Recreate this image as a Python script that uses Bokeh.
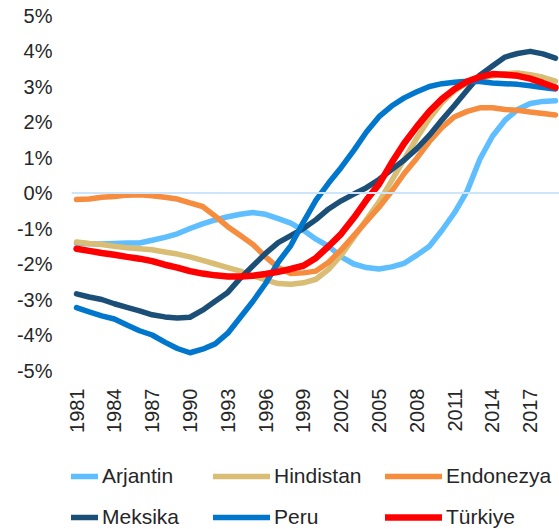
from bokeh.plotting import figure
from bokeh.layouts import column
from bokeh.models import (FixedTicker, PrintfTickFormatter, Span, Legend, LegendItem, Range1d)
from bokeh.embed import file_html
from bokeh.resources import INLINE
import math

years = list(range(1981, 2020))
tick_years = list(range(1981, 2018, 3))
y_ticks = [-5, -4, -3, -2, -1, 0, 1, 2, 3, 4, 5]

series_names = ["Arjantin", "Hindistan", "Endonezya", "Meksika", "Peru", "Türkiye"]

arjantin = [-1.41, -1.43, -1.44, -1.42, -1.41, -1.41, -1.33, -1.25, -1.15, -1.00,
            -0.87, -0.76, -0.67, -0.60, -0.55, -0.60, -0.72, -0.85, -1.05, -1.30,
            -1.50, -1.80, -2.00, -2.10, -2.14, -2.08, -1.98, -1.75, -1.50, -1.05,
            -0.55, 0.06, 0.95, 1.60, 2.05, 2.35, 2.52, 2.58, 2.60]
hindistan = [-1.38, -1.42, -1.45, -1.50, -1.54, -1.57, -1.60, -1.66, -1.72, -1.80,
             -1.90, -2.00, -2.10, -2.20, -2.33, -2.45, -2.55, -2.57, -2.53, -2.43,
             -2.15, -1.75, -1.25, -0.75, -0.25, 0.35, 0.95, 1.55, 2.10, 2.55,
             2.88, 3.10, 3.22, 3.30, 3.36, 3.38, 3.33, 3.26, 3.15]
endonezya = [-0.18, -0.17, -0.12, -0.10, -0.06, -0.05, -0.08, -0.12, -0.17, -0.28,
             -0.38, -0.65, -0.95, -1.20, -1.45, -1.80, -2.10, -2.27, -2.25, -2.20,
             -1.95, -1.60, -1.20, -0.80, -0.40, 0.05, 0.55, 0.98, 1.45, 1.85,
             2.15, 2.30, 2.40, 2.40, 2.35, 2.33, 2.28, 2.24, 2.20]
meksika = [-2.84, -2.93, -3.00, -3.12, -3.22, -3.32, -3.43, -3.49, -3.52, -3.50,
           -3.30, -3.05, -2.80, -2.40, -2.05, -1.70, -1.40, -1.20, -1.00, -0.75,
           -0.45, -0.22, -0.03, 0.15, 0.38, 0.66, 0.93, 1.25, 1.63, 2.06,
           2.47, 2.90, 3.32, 3.58, 3.83, 3.93, 3.99, 3.92, 3.80]
peru = [-3.23, -3.35, -3.46, -3.55, -3.72, -3.88, -4.00, -4.20, -4.38, -4.50,
        -4.40, -4.25, -3.95, -3.50, -3.05, -2.55, -1.95, -1.48, -0.82, -0.20,
        0.28, 0.72, 1.20, 1.72, 2.15, 2.45, 2.68, 2.85, 3.00, 3.08,
        3.12, 3.15, 3.14, 3.10, 3.08, 3.06, 3.02, 2.97, 2.93]
turkiye = [-1.57, -1.63, -1.69, -1.74, -1.80, -1.85, -1.92, -2.02, -2.10, -2.20,
           -2.27, -2.32, -2.35, -2.35, -2.33, -2.28, -2.22, -2.14, -2.05, -1.83,
           -1.50, -1.15, -0.70, -0.20, 0.25, 0.85, 1.40, 1.87, 2.30, 2.65,
           2.93, 3.14, 3.27, 3.35, 3.33, 3.30, 3.22, 3.10, 2.97]

values = [arjantin, hindistan, endonezya, meksika, peru, turkiye]
colors = ["#5EBEFF", "#D9BD74", "#F68D3E", "#1B4F78", "#0077CC", "#FF0000"]
widths = [5.5, 5.5, 5.5, 5.5, 5.5, 6.5]

FONT = "Liberation Sans"
TXT = "#262626"

p = figure(width=559, height=450, output_backend="svg", toolbar_location=None,
           x_range=Range1d(1980.6, 2019.32), y_range=Range1d(-5, 5),
           min_border_left=71, min_border_right=0, min_border_top=15,
           min_border_bottom=80)
p.outline_line_color = None
p.grid.visible = False
p.background_fill_color = "white"
p.border_fill_color = "white"

p.add_layout(Span(location=0, dimension="width", line_color="#CCE5FA", line_width=2))

for name, vals, c, w in zip(series_names, values, colors, widths):
    p.line(years, vals, line_color=c, line_width=w, line_join="round", line_cap="round")

p.yaxis.ticker = FixedTicker(ticks=y_ticks)
p.yaxis.formatter = PrintfTickFormatter(format="%d%%")
p.xaxis.ticker = FixedTicker(ticks=tick_years)
p.xaxis.formatter = PrintfTickFormatter(format="%d")
p.xaxis.major_label_orientation = math.pi / 2
for ax in (p.xaxis[0], p.yaxis[0]):
    ax.axis_line_color = None
    ax.major_tick_line_color = None
    ax.minor_tick_line_color = None
    ax.major_tick_in = 0
    ax.major_tick_out = 0
    ax.minor_tick_out = 0
    ax.major_label_text_font = FONT
    ax.major_label_text_font_size = "20px"
    ax.major_label_text_color = TXT
p.yaxis.major_label_standoff = 19
p.xaxis.major_label_standoff = 18

# legend panel: a second figure whose (out-of-view) lines carry the same styles
q = figure(width=559, height=79, output_backend="svg", toolbar_location=None,
           x_range=Range1d(0, 1), y_range=Range1d(0, 1),
           x_axis_location=None, y_axis_location=None,
           min_border_left=0, min_border_right=0, min_border_top=0, min_border_bottom=0)
q.outline_line_color = None
q.grid.visible = False
q.border_fill_color = "white"
q.background_fill_color = "white"

swatches = []
for name, vals, c, w in zip(series_names, values, colors, widths):
    r = q.line(years, vals, line_color=c, line_width=w, line_cap="round")
    swatches.append(r)

def make_legend(items, vy):
    return Legend(items=items, orientation="horizontal", location=(-30, vy),
                  glyph_width=57, glyph_height=24, label_height=24, label_width=108,
                  label_standoff=4, spacing=3, padding=0, margin=0,
                  border_line_color=None, background_fill_alpha=0,
                  label_text_font=FONT, label_text_font_size="21px",
                  label_text_color=TXT)

items1 = [LegendItem(label=series_names[i], renderers=[swatches[i]]) for i in range(3)]
items2 = [LegendItem(label=series_names[i], renderers=[swatches[i]]) for i in range(3, 6)]
q.add_layout(make_legend(items1, 41), "center")
q.add_layout(make_legend(items2, 0), "center")

layout = column(p, q, spacing=0)
open("out.html", "w").write(file_html(layout, INLINE))
